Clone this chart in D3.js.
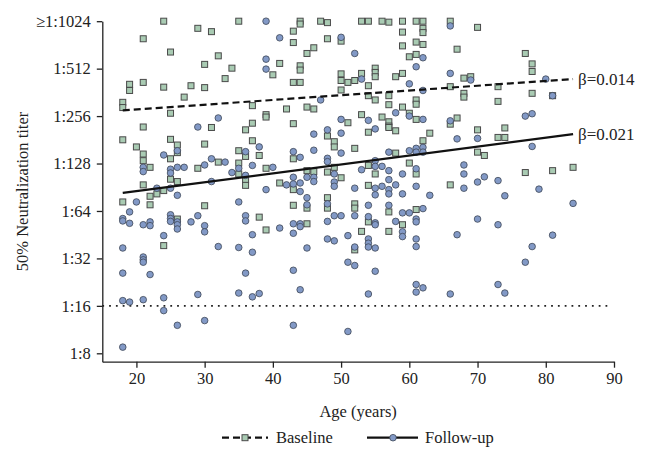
<!DOCTYPE html>
<html>
<head>
<meta charset="utf-8">
<script src="https://cdn.jsdelivr.net/npm/d3@7"></script>
<style>
  body { margin: 0; background: #fff; }
  svg text { font-family: "Liberation Serif", "Times New Roman", serif; fill: #222; }
</style>
</head>
<body>
<div id="chart"></div>
<script>
// ages (years) and log2 of reciprocal 50% neutralization titer
var baseAge = [24,29,31,21,25,32,30,34,33,19,19,21,24,28,30,27,18,18,25,21,31,
  35,44,44,47,48,53,43,43,48,50,46,45,41,44,44,40,43,44,50,53,50,51,52,50,37,42,45,46,39,39,37,43,51,
  54,56,57,59,61,62,66,62,62,59,70,59,61,62,60,61,67,55,55,55,58,59,68,69,66,54,54,55,57,57,61,61,68,68,59,60,61,56,57,57,53,66,67,
  77,78,78,73,78,81,73,74,73,74,77,81,84,
  18,20,21,21,22,25,26,26,25,29,30,32,21,25,26,24,23,22,22,18,30,26,
  36,37,35,36,38,35,35,36,36,39,41,43,43,48,49,49,52,45,46,48,49,50,43,45,48,48,52,52,38,45,39,
  54,57,58,63,62,70,70,71,58,54,55,60,61,54,66,57,61,54,59,53,57,24,52];
var baseTiter = [10,9.85,9.78,9.63,9.35,9.27,9.09,9.01,8.79,8.67,8.54,8.71,8.61,8.64,8.60,8.40,8.29,8.18,8.06,7.77,7.76,
  10,10,9.94,10,9.97,10,9.79,9.55,9.63,9.58,9.44,9.32,9.11,9.06,8.97,8.87,8.71,8.71,8.89,8.90,8.75,8.71,8.75,8.55,8.22,8.15,8.19,8.15,8.03,7.98,7.85,7.84,7.86,
  10,10,9.98,10,10,10,10,9.85,9.76,9.77,9.87,9.48,9.56,9.51,9.25,9.30,9.41,9.01,8.92,8.83,8.83,8.90,8.80,8.83,8.62,8.64,8.43,8.34,8.43,8.24,8.34,8.25,8.48,8.40,8.19,8.06,7.93,7.98,7.88,7.79,8.03,7.83,7.96,
  9.32,9.10,8.94,8.62,8.48,8.43,8.31,7.75,7.55,7.55,6.81,6.85,6.92,
  7.50,7.35,7.20,7.06,6.92,7.51,7.39,7.23,7.10,6.90,7.41,7.03,6.55,6.67,6.62,6.43,6.36,6.31,6.13,6.19,6.11,5.83,
  7.71,7.48,7.27,7.15,7.17,7.01,6.78,6.66,6.54,6.90,6.59,6.45,7.10,7.58,7.46,7.35,7.32,6.85,6.83,6.82,6.92,6.70,6.12,6.06,6.28,6.06,6.15,6.06,5.87,5.73,5.60,
  7.66,7.76,7.69,7.64,7.48,7.71,7.24,7.17,7.22,6.96,6.78,7.01,6.78,6.54,6.55,5.98,6.03,5.77,5.71,5.57,5.57,5.27,5.18];

var followAge = [32,29,39,41,39,39,52,47,50,50,
  66,62,61,53,60,62,66,69,58,60,62,54,66,
  80,81,77,78,78,73,79,74,84,73,81,78,77,73,74,
  21,21,24,26,25,25,26,27,30,31,33,23,25,26,31,20,19,18,18,19,21,22,22,25,25,25,26,26,26,28,29,30,30,24,
  38,36,37,35,34,36,40,39,35,42,43,44,44,43,43,44,46,46,48,50,50,48,48,45,46,46,49,49,49,52,45,45,48,52,49,50,36,36,43,44,44,48,41,37,43,48,49,51,
  55,67,70,60,61,62,61,62,57,55,55,56,53,57,61,59,68,68,71,57,55,56,55,57,57,58,59,61,63,68,70,54,57,59,60,62,54,55,55,58,61,61,70,59,59,67,54,61,
  18,32,21,21,21,18,22,18,19,21,24,24,26,29,30,18,
  35,37,45,52,36,43,51,52,35,37,38,44,43,51,
  54,54,55,61,55,54,61,62,61,66];
var followTiter = [7.96,7.77,10,9.65,9.20,8.99,9.32,8.34,7.93,9.66,
  9.90,9.23,9.04,8.78,8.68,8.54,8.90,8.76,8.07,8.00,7.93,7.91,7.90,
  8.78,8.43,8.00,8.05,7.36,6.64,6.46,6.32,6.16,5.71,5.49,5.25,4.92,4.45,4.27,
  6.92,6.83,7.18,7.27,6.88,6.80,6.92,6.92,6.97,7.10,7.03,6.48,6.48,6.33,6.62,6.19,5.98,5.84,5.79,5.74,5.71,5.77,5.69,5.92,5.84,5.78,5.77,5.71,5.62,5.77,5.90,5.69,5.56,5.48,
  7.35,7.25,6.96,6.90,6.81,6.75,6.92,6.45,6.19,6.55,6.57,6.59,6.41,6.71,7.25,7.13,7.62,7.28,7.71,7.64,7.22,7.11,7.04,6.71,6.71,6.62,6.78,6.61,6.52,6.48,6.28,6.13,6.15,5.90,5.90,5.90,5.90,5.79,5.73,5.73,5.67,5.78,5.64,5.50,5.53,5.41,5.37,5.48,
  7.73,7.52,7.53,7.27,7.32,7.34,7.24,7.24,7.24,7.06,6.94,6.94,6.87,6.85,6.89,6.78,6.97,6.78,6.72,6.66,6.48,6.52,6.34,6.45,6.36,6.55,6.36,6.52,6.33,6.48,6.61,6.12,6.12,5.96,5.96,6.05,5.88,5.75,5.71,5.78,5.83,5.77,5.83,5.56,5.46,5.50,5.41,5.41,
  5.22,5.25,5.03,4.97,4.92,4.69,4.66,4.11,4.08,4.13,4.17,3.90,3.59,4.24,3.69,3.13,
  5.23,5.13,5.22,5.24,4.69,4.75,4.92,4.85,4.27,4.19,4.26,4.34,3.59,3.46,
  5.32,5.24,5.22,5.25,4.73,4.25,4.45,4.38,4.29,4.25];

// fitted regression lines (endpoints)
var fitAges = [18, 84];
var baseFit = [8.12, 8.78];
var followFit = [6.38, 7.62];
var baseBeta = "β=0.014";
var followBeta = "β=0.021";

var thresholdTiter = 4;      // 1:16
var thresholdAges = [15, 89.5];

var xTicks = [20, 30, 40, 50, 60, 70, 80, 90];
var yTicks = [3, 4, 5, 6, 7, 8, 9, 10];
var yTickLabels = ["1:8", "1:16", "1:32", "1:64", "1:128", "1:256", "1:512", "\u22651:1024"];

var margin = {top: 21.2, right: 43, bottom: 93.3, left: 102.3},
    width = 657 - margin.left - margin.right,
    height = 455 - margin.top - margin.bottom;

var svg = d3.select("#chart").append("svg")
    .attr("width", 657)
    .attr("height", 455)
  .append("g")
    .attr("transform", "translate(" + margin.left + "," + margin.top + ")");

var x = d3.scaleLinear().domain([15, 90]).range([0, width]);
var y = d3.scaleLinear().domain([2.823, 10]).range([height, 0]);

// axes
var xAxis = svg.append("g")
    .attr("transform", "translate(0," + height + ")")
    .call(d3.axisBottom(x).tickValues(xTicks).tickSize(6).tickSizeOuter(0).tickPadding(5));
var yAxis = svg.append("g")
    .call(d3.axisLeft(y).tickValues(yTicks).tickSize(5.5).tickSizeOuter(0).tickPadding(6)
      .tickFormat(function(d, i) { return yTickLabels[i]; }));

[xAxis, yAxis].forEach(function(a) {
  a.selectAll("path, line").attr("stroke", "#222").attr("stroke-width", 1.3);
  a.selectAll("text").style("font-family", "Liberation Serif, serif").style("font-size", "16.5px").attr("fill", "#333");
});

// threshold
svg.append("line")
    .attr("x1", x(thresholdAges[0])).attr("x2", x(thresholdAges[1]))
    .attr("y1", y(thresholdTiter)).attr("y2", y(thresholdTiter))
    .attr("stroke", "#222").attr("stroke-width", 1.8)
    .attr("stroke-dasharray", "1.8,5");

// points
var baseData = baseAge.map(function(a, i) { return {age: a, t: baseTiter[i]}; });
var followData = followAge.map(function(a, i) { return {age: a, t: followTiter[i]}; });

svg.selectAll(".sq")
    .data(baseData)
  .enter().append("rect")
    .attr("class", "sq")
    .attr("x", function(d) { return x(d.age) - 3; })
    .attr("y", function(d) { return y(d.t) - 3; })
    .attr("width", 6).attr("height", 6)
    .attr("fill", "#a9cbb3")
    .attr("stroke", "#4a4a4a").attr("stroke-width", 1);

svg.selectAll(".dot")
    .data(followData)
  .enter().append("circle")
    .attr("class", "dot")
    .attr("cx", function(d) { return x(d.age); })
    .attr("cy", function(d) { return y(d.t); })
    .attr("r", 3.3)
    .attr("fill", "#8299c6")
    .attr("stroke", "#3e4656").attr("stroke-width", 0.8);

// regression lines
var line = d3.line().x(function(d) { return x(d[0]); }).y(function(d) { return y(d[1]); });
svg.append("path")
    .datum(fitAges.map(function(a, i) { return [a, baseFit[i]]; }))
    .attr("d", line).attr("fill", "none")
    .attr("stroke", "#111").attr("stroke-width", 2.2).attr("stroke-dasharray", "7,4");
svg.append("path")
    .datum(fitAges.map(function(a, i) { return [a, followFit[i]]; }))
    .attr("d", line).attr("fill", "none")
    .attr("stroke", "#111").attr("stroke-width", 2.2);

svg.append("text")
    .attr("x", x(fitAges[1]) + 5).attr("y", y(baseFit[1]) + 6)
    .style("font-size", "17px").text(baseBeta);
svg.append("text")
    .attr("x", x(fitAges[1]) + 5).attr("y", y(followFit[1]) + 6)
    .style("font-size", "17px").text(followBeta);

// axis titles
svg.append("text")
    .attr("x", width / 2).attr("y", height + 55)
    .style("text-anchor", "middle").style("font-size", "16.5px")
    .text("Age (years)");
svg.append("text")
    .attr("transform", "rotate(-90)")
    .attr("x", -height / 2).attr("y", -margin.left + 28)
    .style("text-anchor", "middle").style("font-size", "16.5px")
    .text("50% Neutralization titer");

// legend
var legend = svg.append("g").attr("transform", "translate(0," + (height + 76) + ")");
var lx0 = 222 - margin.left, lx1 = 367 - margin.left;
legend.append("line").attr("x1", lx0).attr("x2", lx0 + 46).attr("y1", 0).attr("y2", 0)
    .attr("stroke", "#111").attr("stroke-width", 2.2).attr("stroke-dasharray", "7,4");
legend.append("rect").attr("x", lx0 + 20).attr("y", -3).attr("width", 6).attr("height", 6)
    .attr("fill", "#a9cbb3").attr("stroke", "#4a4a4a");
legend.append("text").attr("x", lx0 + 54).attr("y", 5.5).style("font-size", "16.5px").text("Baseline");
legend.append("line").attr("x1", lx1).attr("x2", lx1 + 51).attr("y1", 0).attr("y2", 0)
    .attr("stroke", "#111").attr("stroke-width", 2.2);
legend.append("circle").attr("cx", lx1 + 26).attr("cy", 0).attr("r", 3.3)
    .attr("fill", "#8299c6").attr("stroke", "#3e4656").attr("stroke-width", 0.8);
legend.append("text").attr("x", lx1 + 58).attr("y", 5.5).style("font-size", "16.5px").text("Follow-up");
</script>
</body>
</html>
